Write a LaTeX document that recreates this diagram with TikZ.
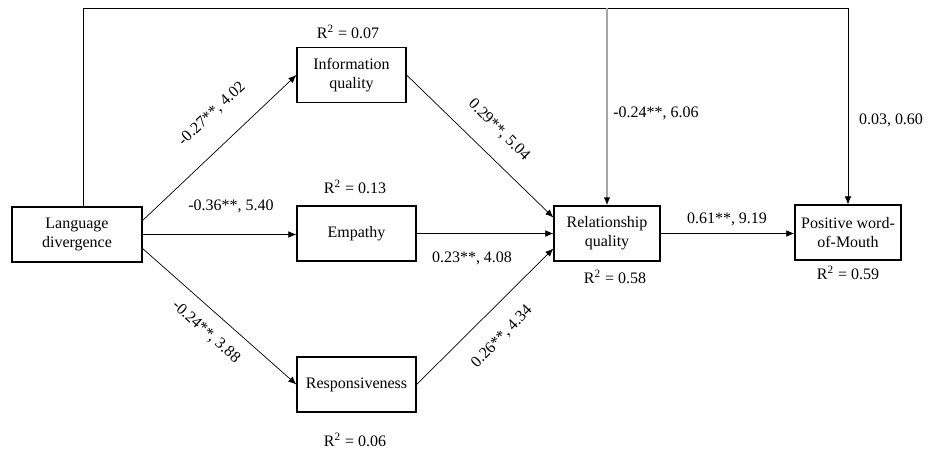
\documentclass[tikz,border=0pt]{standalone}
\usepackage{fontspec}
\setmainfont{Liberation Serif}
\usetikzlibrary{arrows.meta, positioning, calc}

\begin{document}
\begin{tikzpicture}[
    >={Latex[length=4.6pt,width=3.8pt]},
    font=\fontsize{9.1}{11}\selectfont,
    var/.style={draw, line width=0.7pt, align=center, inner sep=2pt, minimum height=11mm},
    path/.style={->, line width=0.4pt},
    direct/.style={->, line width=0.8pt, draw=black!35, >={Latex[length=4.6pt,width=3.8pt,color=black]}},
    coef/.style={inner sep=0pt},
    rsq/.style={inner sep=1pt}
]
\useasboundingbox (0,0) rectangle (18.58,9.02);

% --------------------------------------------------------------------------
% Constructs
% --------------------------------------------------------------------------
\node[var, minimum width=26mm] (ld) at (1.54,4.33) {Language\\divergence};

\node[var, minimum width=21.8mm] (iq) at (7.03,7.52) {Information\\quality};
\node[var, minimum width=23.8mm] (emp) at (7.13,4.35) {Empathy};
\node[var, minimum width=23.8mm] (resp) at (7.13,1.33) {Responsiveness};

\node[var, minimum width=21.2mm] (rq) at (12.14,4.35) {Relationship\\quality};
\node[var, minimum width=21.2mm] (pwom) at (16.96,4.37) {Positive word-\\of-Mouth};

% --------------------------------------------------------------------------
% Paths
% --------------------------------------------------------------------------
\draw[path] ($(ld.east)+(0,0.28)$) -- (iq.west);
\draw[path] (ld.east) -- (ld.east -| emp.west);
\draw[path] ($(ld.east)+(0,-0.28)$) -- (resp.west);

\draw[path] (iq.east) -- ($(rq.west)+(0,0.32)$);
\draw[path] (emp.east) -- (emp.east -| rq.west);
\draw[path] (resp.east) -- ($(rq.west)+(0,-0.3)$);

\draw[path] (rq.east) -- (rq.east -| pwom.west);

% direct effects over the top
\coordinate (ldtop) at ($(ld.north)+(0.12,0)$);
\coordinate (top) at (0,8.86);
\draw[path] (ldtop) -- (ldtop |- top) -- (pwom.north |- top) -- (pwom.north);
\draw[direct] (rq.north |- top) -- (rq.north);

% --------------------------------------------------------------------------
% Estimates
% --------------------------------------------------------------------------
\node[coef, rotate=43] (c1) at (4.24,6.74) {-0.27**, 4.02};
\node[coef] (c2) at (4.62,4.90) {-0.36**, 5.40};
\node[coef, rotate=-42] (c3) at (4.12,2.38) {-0.24**, 3.88};

\node[coef, rotate=-45] (c4) at (9.98,6.42) {0.29**, 5.04};
\node[coef] (c5) at (9.44,3.86) {0.23**, 4.08};
\node[coef, rotate=46] (c6) at (10.04,2.28) {0.26**, 4.34};

\node[coef] (c7) at (14.54,4.64) {0.61**, 9.19};
\node[coef] (c8) at (13.12,6.76) {-0.24**, 6.06};
\node[coef] (c9) at (17.82,6.62) {0.03, 0.60};

\node[rsq] (r1) at (6.96,8.38) {R\textsuperscript{2} = 0.07};
\node[rsq] (r2) at (7.10,5.28) {R\textsuperscript{2} = 0.13};
\node[rsq] (r3) at (7.10,0.22) {R\textsuperscript{2} = 0.06};
\node[rsq] (r4) at (12.30,3.48) {R\textsuperscript{2} = 0.58};
\node[rsq] (r5) at (16.96,3.56) {R\textsuperscript{2} = 0.59};

\end{tikzpicture}
\end{document}
